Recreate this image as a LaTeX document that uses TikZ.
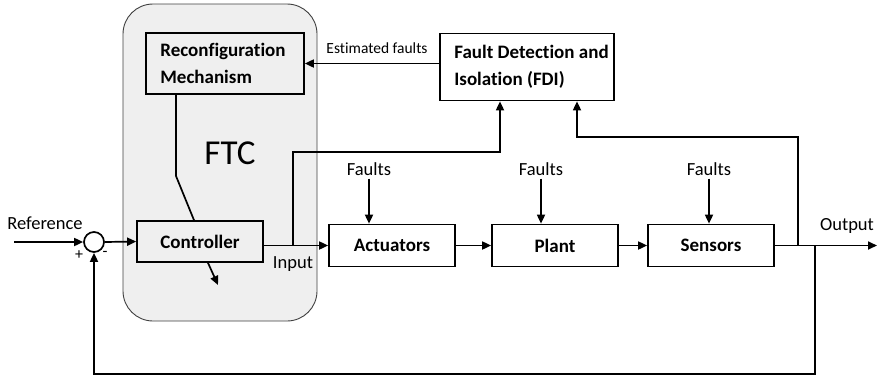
\documentclass[tikz,border=0pt]{standalone}
\usepackage{fontspec}
\setmainfont{Carlito}[Ligatures=NoCommon]
\usetikzlibrary{arrows.meta}

\definecolor{ftcgray}{HTML}{EFEFEF}

\tikzset{
  block/.style={draw, line width=1.7pt, minimum height=42pt, minimum width=126pt,
    inner sep=0pt, font=\fontsize{19}{28}\selectfont\bfseries},
  blocktext/.style={anchor=west, align=left, inner sep=0pt,
    font=\fontsize{19}{27.5}\selectfont\bfseries},
  lbl/.style={inner sep=3pt, font=\fontsize{18.5}{22}\selectfont},
  wire/.style={line width=1.7pt},
  arr/.style={wire, -{Triangle[length=9pt,width=8pt]}}
}

\begin{document}
\begin{tikzpicture}[x=1pt, y=-1pt]
  \useasboundingbox (0,0) rectangle (879,376);

  % FTC region
  \draw[fill=ftcgray, draw=black!75, line width=0.9pt, rounded corners=30pt]
    (123,4) rectangle (317,321);
  \node[font=\fontsize{35}{40}\selectfont] (ftc) at (230,153) {FTC};

  % Blocks
  \node[block, minimum width=158pt, minimum height=61pt] (reconf) at (225,63.5) {};
  \node[blocktext] (reconftxt) at ([xshift=15pt]reconf.west) {Reconfiguration\\Mechanism};
  \node[block, minimum width=174pt, minimum height=67pt] (fdi) at (527,67) {};
  \node[blocktext] (fditxt) at ([xshift=15pt]fdi.west) {Fault Detection and\\Isolation (FDI)};
  \node[block, minimum height=41pt] (ctrl) at (200,241.5) {Controller};
  \node[block] (act)  at (392,245.5) {Actuators};
  \node[block] (plant) at (555,245.5) {Plant};
  \node[block] (sens) at (711,245.5) {Sensors};

  % Summing junction
  \node[draw, circle, line width=1.7pt, minimum size=20pt, inner sep=0pt] (sum) at (94,242) {};

  % Free ends and branch points
  \coordinate (ref)    at (14,242);
  \coordinate (br1)    at (293,245.5);
  \coordinate (fdiin1) at (500,152);
  \coordinate (br2)    at (798,245.5);
  \coordinate (fdiin2) at (577,137);
  \coordinate (br3)    at (815,245.5);
  \coordinate (fbk)    at (815,374);
  \coordinate (out)    at (877,245.5);
  \coordinate (kink)   at (176,176);
  \coordinate (adj)    at (218,285);

  % Labels
  \node[lbl] (reflbl) at (45,223) {Reference};
  \node[lbl, font=\fontsize{16}{18}\selectfont] (plus)  at (79,255) {+};
  \node[lbl, font=\fontsize{16}{18}\selectfont] (minus) at (105,254) {-};
  \node[lbl] (inlbl)  at (293,264) {Input};
  \node[lbl] (outlbl) at (847,226) {Output};
  \node[lbl, font=\fontsize{15.5}{18}\selectfont] (estlbl) at (377,48) {Estimated faults};
  \node[lbl] (f1) at (369,169) {Faults};
  \node[lbl] (f2) at (541,169) {Faults};
  \node[lbl] (f3) at (709,169) {Faults};

  % Main loop
  \draw[arr] (ref) -- (sum.west);
  \draw[arr] (sum.east) -- (ctrl.west);
  \draw[arr] (ctrl.east |- act) -- (act.west);
  \draw[arr] (act) -- (plant);
  \draw[arr] (plant) -- (sens);
  \draw[arr] (sens) -- (out);
  \draw[arr] (br3) -- (fbk) -| (sum.south);

  % Fault inputs
  \draw[arr] (f1.south) -- (f1.south |- act.north);
  \draw[arr] (f2.south) -- (f2.south |- plant.north);
  \draw[arr] (f3.south) -- (f3.south |- sens.north);

  % FDI connections
  \draw[arr] (br1) |- (fdiin1) -- (fdiin1 |- fdi.south);
  \draw[arr] (br2) |- (fdiin2) -- (fdiin2 |- fdi.south);
  \draw[arr] (fdi.west |- reconf.east) -- (reconf.east);

  % Reconfiguration to controller
  \draw[wire] (kink |- reconf.south) -- (kink) -- ([xshift=-6pt]ctrl.north);
  \draw[arr] ([xshift=8pt]ctrl.south) -- (adj);
\end{tikzpicture}
\end{document}
